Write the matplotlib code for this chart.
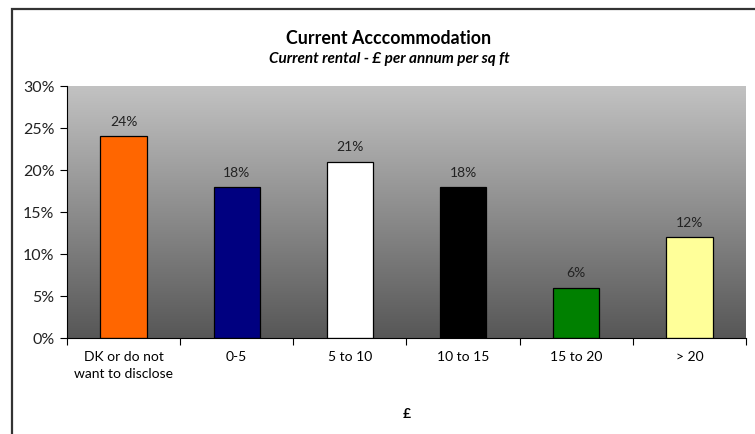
import matplotlib.pyplot as plt
import matplotlib.patches as mpatches
from matplotlib.colors import LinearSegmentedColormap
from matplotlib.ticker import FuncFormatter
import numpy as np

categories = ['DK or do not\nwant to disclose', '0-5', '5 to 10', '10 to 15', '15 to 20', '> 20']
values = [24, 18, 21, 18, 6, 12]
colors = ['#ff6600', '#000080', '#ffffff', '#000000', '#008000', '#ffff99']

plt.rcParams['font.family'] = ['Lato', 'DejaVu Sans']

fig = plt.figure(figsize=(7.55, 4.35), dpi=100)
W, H = 755, 435
ax = fig.add_axes([67 / W, 1 - 339 / H, (746 - 67) / W, (339 - 87) / H])

# outer chart frame (right/bottom edges fall outside the image)
fig.patches.append(mpatches.Rectangle((12 / W, -0.1), 1.2, 1 - 10 / H + 0.1,
                                      transform=fig.transFigure, fill=False,
                                      edgecolor='#333333', linewidth=1.6))

# grey gradient background of the plot area, light at the top
grad = np.linspace(0, 1, 256).reshape(-1, 1)
cmap = LinearSegmentedColormap.from_list('bg', ['#c2c2c2', '#575757'])
ax.imshow(grad, aspect='auto', cmap=cmap, extent=(-0.5, 5.5, 0, 30),
          origin='upper', zorder=0)

x = np.arange(len(categories))
bars = ax.bar(x, values, width=0.41, color=colors, edgecolor='black', linewidth=0.9, zorder=2)
for bar, v in zip(bars, values):
    ax.text(bar.get_x() + bar.get_width() / 2, v + 1.1, f'{v}%',
            ha='center', va='bottom', fontsize=10, color='#222222')

ax.set_xlim(-0.5, 5.5)
ax.set_ylim(0, 30)
ax.set_yticks(range(0, 31, 5))
ax.yaxis.set_major_formatter(FuncFormatter(lambda v, p: f'{v:.0f}%'))
ax.set_xticks(np.arange(-0.5, 6, 1))
ax.set_xticklabels([])
ax.set_xticks(x, minor=True)
ax.set_xticklabels(categories, minor=True, fontsize=10, linespacing=1.5)
ax.tick_params(axis='x', which='minor', length=0, pad=9)
ax.tick_params(axis='x', which='major', length=5, direction='out')
ax.tick_params(axis='y', length=5, labelsize=11.5, pad=4, labelcolor='#222222')
for s in ['top', 'right']:
    ax.spines[s].set_visible(False)

ax.set_xlabel('£', fontsize=10, fontweight='bold', labelpad=20)

fig.text(389 / W, 1 - 38 / H, 'Current Acccommodation', ha='center', va='center',
         fontsize=12.8, fontweight='bold')
fig.text(389 / W, 1 - 59 / H, 'Current rental - £ per annum per sq ft', ha='center',
         va='center', fontsize=11, fontweight='bold', style='italic')

fig.savefig('out.png', dpi=100)
